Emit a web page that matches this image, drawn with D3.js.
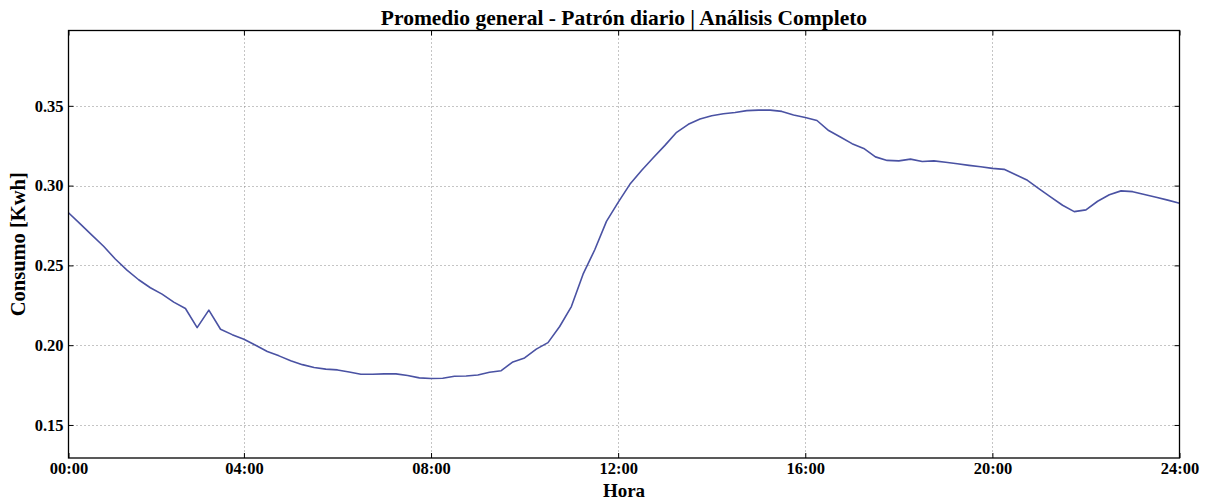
<!DOCTYPE html>
<html>
<head>
<meta charset="utf-8">
<script src="https://cdn.jsdelivr.net/npm/d3@7"></script>
<style>
  html, body { margin: 0; padding: 0; background: #fff; }
  svg text { font-family: "Liberation Serif", "Times New Roman", serif; font-weight: bold; fill: #000; }
</style>
</head>
<body>
<svg id="chart" width="1209" height="501"></svg>
<script>
// Average consumption, one value per 15-minute slot (96 slots in a day)
const consumo = [
  0.283, 0.276, 0.269, 0.262, 0.254, 0.247, 0.241, 0.236, 0.232, 0.227,
  0.223, 0.211, 0.222, 0.210, 0.2066, 0.2037, 0.200, 0.196, 0.1933, 0.1903,
  0.1878, 0.186, 0.185, 0.1845, 0.1832, 0.1818, 0.1818, 0.182, 0.182, 0.181,
  0.1795, 0.1791, 0.1793, 0.1805, 0.1807, 0.1813, 0.183, 0.184, 0.1895, 0.192,
  0.1975, 0.2016, 0.2117, 0.2242, 0.2445, 0.2598, 0.2776, 0.2895, 0.3008, 0.3095,
  0.3175, 0.3252, 0.3334, 0.3384, 0.3418, 0.3438, 0.345, 0.3458, 0.347, 0.3473,
  0.3473, 0.3465, 0.3443, 0.3427, 0.3408, 0.3345, 0.3305, 0.3263, 0.3233, 0.318,
  0.3158, 0.3155, 0.3166, 0.3151, 0.3155, 0.3146, 0.3137, 0.3127, 0.3118, 0.3108,
  0.3102, 0.3068, 0.3033, 0.298, 0.2928, 0.2877, 0.2837, 0.2848, 0.2902, 0.2943,
  0.2967, 0.2962, 0.2944, 0.2927, 0.2909, 0.289
];

// Tick slots on the x axis and their hour labels
const xTickSlots = [0, 15, 31, 47, 63, 79, 95];
const xTickLabels = ["00:00", "04:00", "08:00", "12:00", "16:00", "20:00", "24:00"];
const yTickValues = [0.15, 0.20, 0.25, 0.30, 0.35];

const titulo = "Promedio general - Patrón diario | Análisis Completo";
const etiquetaX = "Hora";
const etiquetaY = "Consumo [Kwh]";

const svg = d3.select("#chart");
const plot = { left: 68.5, right: 1179.5, top: 30.5, bottom: 458 };

const x = d3.scaleLinear().domain([0, consumo.length - 1]).range([plot.left, plot.right]);
const y = d3.scaleLinear().domain([0.1293, 0.3972]).range([plot.bottom, plot.top]);

// Dotted grid
const grid = svg.append("g").attr("stroke", "#8a8a8a").attr("stroke-width", 1)
  .attr("stroke-dasharray", "1,3");
grid.selectAll("line.gx").data(xTickSlots.slice(1, -1)).join("line")
  .attr("x1", d => Math.round(x(d)) + 0.5).attr("x2", d => Math.round(x(d)) + 0.5)
  .attr("y1", plot.top).attr("y2", plot.bottom);
grid.selectAll("line.gy").data(yTickValues).join("line")
  .attr("y1", d => Math.round(y(d)) + 0.5).attr("y2", d => Math.round(y(d)) + 0.5)
  .attr("x1", plot.left).attr("x2", plot.right);

// Data line
const line = d3.line().x((d, i) => x(i)).y(d => y(d));
svg.append("path").datum(consumo)
  .attr("fill", "none")
  .attr("stroke", "#4a52a3")
  .attr("stroke-width", 1.6)
  .attr("stroke-linejoin", "round")
  .attr("d", line);

// Axes with inward ticks on all four sides
const fontSize = 16.5;
const xAxisB = d3.axisBottom(x).tickValues(xTickSlots)
  .tickFormat((d, i) => xTickLabels[i]).tickSizeInner(-5).tickSizeOuter(0).tickPadding(10);
const xAxisT = d3.axisTop(x).tickValues(xTickSlots).tickFormat("").tickSizeInner(-5).tickSizeOuter(0);
const yAxisL = d3.axisLeft(y).tickValues(yTickValues).tickFormat(d3.format(".2f"))
  .tickSizeInner(-5).tickSizeOuter(0).tickPadding(10);
const yAxisR = d3.axisRight(y).tickValues(yTickValues).tickFormat("").tickSizeInner(-5).tickSizeOuter(0);

function styleAxis(g) {
  g.select(".domain").remove();
  g.selectAll(".tick line").attr("stroke", "#000").attr("stroke-width", 1);
  g.selectAll(".tick text").style("font-size", fontSize + "px").attr("fill", "#000");
}
// bottom labels: place text just below the frame (ticks point inward)
svg.append("g").attr("transform", `translate(0,${plot.bottom})`).call(xAxisB).call(styleAxis)
  .selectAll(".tick text").attr("y", 4).attr("dy", "0.71em");
svg.append("g").attr("transform", `translate(0,${plot.top})`).call(xAxisT).call(styleAxis);
svg.append("g").attr("transform", `translate(${plot.left},0)`).call(yAxisL).call(styleAxis)
  .selectAll(".tick text").attr("x", -5);
svg.append("g").attr("transform", `translate(${plot.right},0)`).call(yAxisR).call(styleAxis);

// Frame
svg.append("rect")
  .attr("x", plot.left).attr("y", plot.top)
  .attr("width", plot.right - plot.left).attr("height", plot.bottom - plot.top)
  .attr("fill", "none").attr("stroke", "#000").attr("stroke-width", 1.3);

// Title and axis labels
const cx = (plot.left + plot.right) / 2;
svg.append("text").attr("x", cx).attr("y", 25).attr("text-anchor", "middle")
  .style("font-size", "21.5px").text(titulo);
svg.append("text").attr("x", cx).attr("y", 497).attr("text-anchor", "middle")
  .style("font-size", "19px").text(etiquetaX);
svg.append("text")
  .attr("transform", `translate(25,${(plot.top + plot.bottom) / 2}) rotate(-90)`)
  .attr("text-anchor", "middle")
  .style("font-size", "20.5px").text(etiquetaY);
</script>
</body>
</html>
